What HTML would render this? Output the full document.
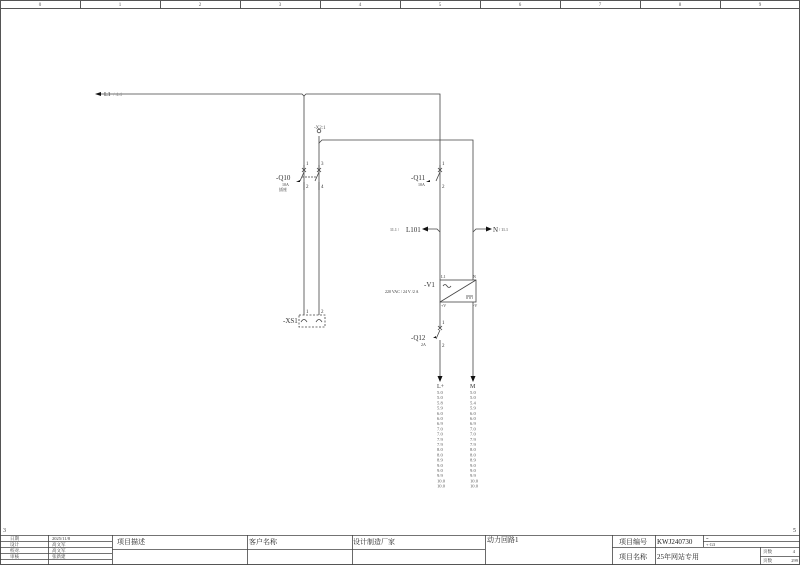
<!DOCTYPE html>
<html><head><meta charset="utf-8"><style>
html,body{margin:0;padding:0;background:#fff}
svg{display:block;font-family:"Liberation Serif","Noto Serif CJK SC",serif}
</style></head><body>
<svg width="800" height="565" viewBox="0 0 800 565" xmlns="http://www.w3.org/2000/svg">
<rect x="0.5" y="0.5" width="799" height="564" fill="none" stroke="#555"/>
<line x1="0" y1="8.5" x2="800" y2="8.5" stroke="#555"/>
<g stroke="#555">
<line x1="80.5" y1="0" x2="80.5" y2="8"/><line x1="160.5" y1="0" x2="160.5" y2="8"/><line x1="240.5" y1="0" x2="240.5" y2="8"/><line x1="320.5" y1="0" x2="320.5" y2="8"/><line x1="400.5" y1="0" x2="400.5" y2="8"/><line x1="480.5" y1="0" x2="480.5" y2="8"/><line x1="560.5" y1="0" x2="560.5" y2="8"/><line x1="640.5" y1="0" x2="640.5" y2="8"/><line x1="720.5" y1="0" x2="720.5" y2="8"/>
</g>
<g font-size="5" fill="#555" text-anchor="middle">
<text x="40" y="6">0</text><text x="120" y="6">1</text><text x="200" y="6">2</text><text x="280" y="6">3</text><text x="360" y="6">4</text><text x="440" y="6">5</text><text x="520" y="6">6</text><text x="600" y="6">7</text><text x="680" y="6">8</text><text x="760" y="6">9</text>
</g>
<text x="3" y="532" font-size="6" fill="#333">3</text>
<text x="793" y="532" font-size="6" fill="#333">5</text>

<g stroke="#444" fill="none" stroke-width="0.8">
<!-- L1 line -->
<polyline points="100,94 302,94 304,96 306,94 440,94 440,280"/>
<line x1="304" y1="96" x2="304" y2="315"/>
<!-- second line -->
<polyline points="319,136 319,143 322,140 473,140 473,280"/>
<line x1="319" y1="143" x2="319" y2="315"/>
<circle cx="319" cy="131" r="1.8"/>
<!-- switches Q10 -->
<path d="M304,165 V170 M302,168 l4,4 M306,168 l-4,4 M304,172 l-4,9 M304,182 V190"/>
<path d="M319,165 V170 M317,168 l4,4 M321,168 l-4,4 M319,172 l-4,9 M319,182 V190"/>
<line x1="302" y1="177" x2="317" y2="177" stroke-dasharray="2,1"/>
<!-- Q11 -->
<path d="M440,165 V170 M438,168 l4,4 M442,168 l-4,4 M440,172 l-4,9"/>
<!-- XS1 -->
<rect x="299" y="315" width="26" height="12" stroke-dasharray="2,1.5"/>
<path d="M301,322 q3,-5 6,0 M316,322 q3,-5 6,0"/>
<!-- branch arrows -->
<polyline points="440,232 437,229 425,229"/>
<polyline points="473,232 476,229 488,229"/>
<!-- V1 -->
<rect x="440" y="280" width="36" height="22"/>
<line x1="440" y1="302" x2="476" y2="280"/>
<path d="M443,286 q2,-3 4,0 t4,0"/>
<path d="M466,296 h7 M466,298 h2 M469,298 h2 M472,298 h1"/>
<line x1="440" y1="302" x2="440" y2="325"/>
<line x1="473" y1="302" x2="473" y2="378"/>
<!-- Q12 -->
<path d="M440,325 V328 M438,326 l4,4 M442,326 l-4,4 M440,330 l-4,9 M440,340 V378"/>
</g>
<g fill="#111">
<path d="M95,94 l6,-2 v4z"/>
<path d="M296,182 l4,-2 v2z M426,182 l4,-2 v2z M433,338 l3,-2 v2z"/>
<path d="M422,229 l6,-2.5 v5z"/>
<path d="M492,229 l-6,-2.5 v5z"/>
<path d="M440,382 l-2.5,-6 h5z"/>
<path d="M473,382 l-2.5,-6 h5z"/>
</g>
<g font-size="5" fill="#333">
<text x="104" y="96" font-size="6">L1</text><text x="113" y="96" fill="#888">/ 4.4</text>
<text x="314" y="129" fill="#555">-X2:1</text>
<text x="306" y="165">1</text><text x="321" y="165">3</text>
<text x="306" y="188">2</text><text x="321" y="188">4</text>
<text x="276" y="180" font-size="7">-Q10</text>
<text x="282" y="186" font-size="4">10A</text><text x="279" y="191" font-size="4">插座</text>
<text x="442" y="165">1</text><text x="442" y="188">2</text>
<text x="411" y="180" font-size="7">-Q11</text><text x="418" y="186" font-size="4">10A</text>
<text x="390" y="231" font-size="4">11.1 /</text><text x="406" y="232" font-size="7">L101</text>
<text x="493" y="232" font-size="7">N</text><text x="499" y="231" font-size="4">/ 11.1</text>
<text x="441" y="278" font-size="4">L1</text><text x="473" y="278" font-size="4">N</text>
<text x="441" y="307" font-size="4">+V</text><text x="473" y="307" font-size="4">-V</text>
<text x="424" y="287" font-size="7">-V1</text>
<text x="385" y="293" font-size="4">220 VAC / 24 V /2 A</text>
<text x="442" y="324">1</text><text x="442" y="347">2</text>
<text x="411" y="340" font-size="7">-Q12</text><text x="421" y="346" font-size="4">2A</text>
<text x="306" y="313">1</text><text x="321" y="313">2</text>
<text x="283" y="323" font-size="7">-XS1</text>
<text x="437" y="388" font-size="6">L+</text><text x="470" y="388" font-size="6">M</text>
</g>
<g font-size="4.6" fill="#555">
<text x="437" y="394">5.0</text><text x="437" y="399.2">5.0</text><text x="437" y="404.4">5.8</text><text x="437" y="409.6">5.9</text><text x="437" y="414.8">6.0</text><text x="437" y="420">6.0</text><text x="437" y="425.2">6.9</text><text x="437" y="430.4">7.0</text><text x="437" y="435.6">7.0</text><text x="437" y="440.8">7.9</text><text x="437" y="446">7.9</text><text x="437" y="451.2">8.0</text><text x="437" y="456.4">8.0</text><text x="437" y="461.6">8.9</text><text x="437" y="466.8">9.0</text><text x="437" y="472">9.0</text><text x="437" y="477.2">9.9</text><text x="437" y="482.4">10.0</text><text x="437" y="487.6">10.0</text>
<text x="470" y="394">5.0</text><text x="470" y="399.2">5.0</text><text x="470" y="404.4">5.4</text><text x="470" y="409.6">5.9</text><text x="470" y="414.8">6.0</text><text x="470" y="420">6.0</text><text x="470" y="425.2">6.9</text><text x="470" y="430.4">7.0</text><text x="470" y="435.6">7.0</text><text x="470" y="440.8">7.9</text><text x="470" y="446">7.9</text><text x="470" y="451.2">8.0</text><text x="470" y="456.4">8.0</text><text x="470" y="461.6">8.9</text><text x="470" y="466.8">9.0</text><text x="470" y="472">9.0</text><text x="470" y="477.2">9.9</text><text x="470" y="482.4">10.0</text><text x="470" y="487.6">10.0</text>
</g>

<!-- title block -->
<g stroke="#444" stroke-width="0.8" fill="none">
<line x1="0" y1="535.5" x2="800" y2="535.5"/>
<line x1="0" y1="541.5" x2="112" y2="541.5"/><line x1="0" y1="547.5" x2="112" y2="547.5"/><line x1="0" y1="553.5" x2="112" y2="553.5"/><line x1="0" y1="559.5" x2="112" y2="559.5"/>
<line x1="112" y1="549.5" x2="485" y2="549.5"/>
<line x1="612" y1="547.5" x2="800" y2="547.5"/>
<line x1="703" y1="541.5" x2="800" y2="541.5"/>
<line x1="760" y1="556.5" x2="800" y2="556.5"/>
<line x1="48.5" y1="535" x2="48.5" y2="565"/>
<line x1="112.5" y1="535" x2="112.5" y2="565"/>
<line x1="247.5" y1="535" x2="247.5" y2="565"/>
<line x1="352.5" y1="535" x2="352.5" y2="565"/>
<line x1="485.5" y1="535" x2="485.5" y2="565"/>
<line x1="612.5" y1="535" x2="612.5" y2="565"/>
<line x1="655.5" y1="535" x2="655.5" y2="565"/>
<line x1="703.5" y1="535" x2="703.5" y2="547"/>
<line x1="760.5" y1="547" x2="760.5" y2="565"/>
</g>
<g font-size="4.5" fill="#333">
<text x="10" y="540">日期</text><text x="52" y="540">2025/11/8</text>
<text x="10" y="546">设计</text><text x="52" y="546">高文军</text>
<text x="10" y="552">校对.</text><text x="52" y="552">高文军</text>
<text x="10" y="558">审核</text><text x="52" y="558">张新建</text>
<text x="706" y="540">=</text><text x="706" y="546">+ G3</text>
<text x="763" y="553">页数</text><text x="795" y="553" text-anchor="end">4</text>
<text x="763" y="562">页数</text><text x="798" y="562" text-anchor="end">299</text>
</g>
<g font-size="7" fill="#222">
<text x="117" y="544">项目描述</text>
<text x="249" y="544">客户名称</text>
<text x="353" y="544">设计制造厂家</text>
<text x="487" y="542">动力回路1</text>
<text x="619" y="544">项目编号</text><text x="657" y="544">KWJ240730</text>
<text x="619" y="559">项目名称</text><text x="657" y="559">25年网站专用</text>
</g>
</svg>
</body></html>
